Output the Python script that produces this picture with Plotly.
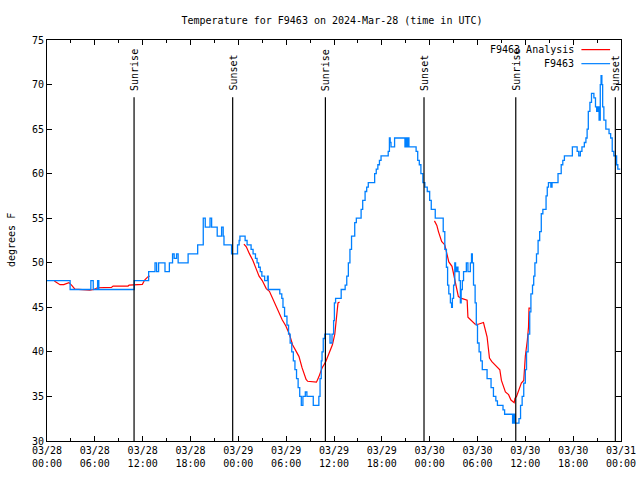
import pandas as pd
import plotly.graph_objects as go

BASE = pd.Timestamp("2024-03-28 00:00")

# Observations (hours since 03/28 00:00 UTC, degrees F) - step series
obs_hours = [0.0, 2.9, 5.5, 5.8, 6.35, 6.5, 10.95, 12.75, 13.55, 13.75, 14.0, 14.8, 15.35, 15.75, 15.95,
             16.25, 16.45, 17.7, 18.9, 19.6, 19.85, 20.45, 20.65, 21.35, 21.9, 22.1, 22.2, 23.15, 23.9,
             24.1, 24.2, 24.85, 25.1, 25.6, 25.85, 26.15, 26.35, 26.55, 26.75, 26.95, 27.3, 27.65, 27.75,
             29.2, 29.45, 29.6, 29.8, 30.1, 30.3, 30.5, 30.7, 30.9, 31.1, 31.3, 31.5, 31.7, 31.9, 32.1,
             32.4, 32.6, 33.4, 34.1, 34.25, 34.4, 34.5, 34.65, 34.85, 35.5, 35.75, 35.95, 36.05, 36.2,
             36.9, 37.4, 37.6, 37.8, 38.0, 38.2, 38.6, 38.8, 39.4, 39.6, 39.9, 40.1, 40.3, 41.1, 41.3,
             41.5, 41.7, 41.9, 42.8, 42.95, 43.05, 43.15, 43.6, 44.9, 45.0, 45.15, 45.25, 45.4, 46.3,
             46.5, 46.7, 46.9, 47.15, 47.4, 47.7, 48.0, 48.2, 48.7, 49.7, 49.9, 50.1, 50.25, 50.4, 50.6,
             50.75, 50.85, 51.0, 51.15, 51.25, 51.4, 51.55, 51.7, 51.85, 51.95, 52.1, 52.25, 52.6, 52.8,
             53.1, 53.25, 53.35, 53.5, 53.7, 53.85, 54.0, 54.2, 54.4, 54.6, 55.2, 55.7, 56.0, 56.3, 56.5,
             57.2, 57.4, 58.4, 58.55, 58.7, 59.2, 59.4, 59.6, 59.8, 60.0, 60.15, 60.35, 60.55, 60.7,
             60.9, 61.05, 61.2, 61.4, 61.6, 61.8, 62.0, 62.2, 62.6, 62.75, 62.9, 63.2, 63.35, 64.1,
             64.5, 64.7, 64.9, 65.9, 66.5, 66.7, 66.9, 67.1, 67.4, 67.6, 67.75, 67.9, 68.1, 68.3, 68.5,
             68.6, 68.8, 68.95, 69.1, 69.25, 69.4, 69.5, 69.6, 69.7, 69.85, 70.1, 70.3, 70.5, 70.7,
             70.9, 71.1, 71.45, 71.6, 71.9]
obs_temp = [48, 47, 48, 47, 48, 47, 48, 49, 50, 49, 50, 49, 50, 51, 50.5,
            51, 50, 51, 52, 55, 54, 55, 54, 53, 54, 53, 52, 51, 52,
            52.5, 53, 52.5, 52, 51.5, 51, 50.5, 50, 49.5, 49, 48.5, 48, 48.5, 47,
            46.5, 46, 45, 44, 43, 42, 41, 40, 39, 38, 37, 36, 35, 34, 35,
            35.5, 35, 34, 35, 37, 39, 40, 41.5, 42, 41, 42, 43.5, 45.5, 46,
            47, 47.5, 48.5, 50, 51.5, 53, 54.5, 55, 56, 57, 58, 58.5, 59, 60, 60.5,
            61, 61.5, 62, 62.5, 64, 63.5, 63, 64, 63, 64, 63, 64, 63, 62.5,
            61.5, 61, 60, 59, 58.5, 58, 57, 56, 55, 53.5, 51.5, 49.5, 47.5, 46.5, 45.5,
            45, 46, 47.5, 50, 49, 49.5, 49, 48, 45.5, 47, 48, 49, 50, 49,
            50, 51, 50, 47.5, 45.5, 43, 41, 40, 39, 38, 37, 36, 35, 34.5, 34,
            33.5, 33, 32, 33, 32, 32.5, 34, 35, 36.5, 38, 40, 42, 44.5, 46.5,
            47.5, 48.5, 50, 51, 52.5, 53.5, 55.5, 56, 57.5, 58.5, 59, 58.5, 59, 60,
            61, 61.5, 62, 63, 62.5, 62, 62.5, 63, 63.5, 64, 65, 67, 68, 69, 69,
            68.5, 67.5, 67, 67.5, 66, 70, 71, 70, 67.5, 66, 65, 65, 64.5, 64,
            62.5, 62, 61, 60.5, 60.5]

# Analysis (None = gap)
ana_hours = [0.92, 1.63, 2.1, 2.46, 2.75, 3.08, 3.5, 5.375, 5.9, 6.3, 8.08, 8.29, 10.17, 10.3, 11.96,
             12.25, 12.67, 12.875, 18.0,
             24.7, 25.0, 25.4, 25.8, 26.2, 26.6, 27.0, 27.5, 27.9, 28.3, 28.7, 29.1, 29.5, 29.96, 30.4,
             30.8, 31.2, 31.6, 32.0, 32.5, 32.7, 33.3, 33.8, 34.1, 34.5, 34.96, 35.4, 35.8, 36.1, 36.3,
             36.5, 36.7, 42.0,
             48.6, 48.9, 49.1, 49.5, 49.9, 50.2, 50.4, 50.8, 51.1, 51.4, 51.6, 52.0, 52.7, 52.8, 53.3,
             53.7, 54.1, 54.75, 55.2, 55.5, 55.8, 56.4, 56.8, 57.0, 57.3, 57.5, 57.9, 58.2, 58.6, 58.7,
             58.9, 59.1, 59.5, 59.8, 60.0, 60.25, 60.4, 60.46, 60.7]
ana_temp = [47.95, 47.54, 47.55, 47.69, 47.77, 47.5, 47.05, 46.94, 47.0, 47.2, 47.24, 47.39, 47.39, 47.5, 47.58,
            48.06, 48.44, 48.5, None,
            52.1, 51.8, 51.0, 50.3, 49.4, 48.5, 48.0, 47.1, 46.8, 46.0, 45.1, 44.3, 43.6, 42.9, 42.0,
            40.8, 40.2, 39.5, 38.2, 36.9, 36.7, 36.6, 36.6, 37.2, 38.2, 38.9, 40.0, 40.8, 42.0, 43.6,
            45.5, 45.6, None,
            54.7, 54.2, 53.5, 52.4, 52.0, 50.9, 50.1, 49.6, 48.4, 47.1, 46.2, 46.0, 45.8, 43.9, 43.4,
            43.1, 43.1, 43.3, 41.7, 39.3, 38.9, 38.3, 38.0, 36.8, 35.9, 35.5, 35.2, 34.6, 34.3, 34.8,
            35.0, 35.5, 36.5, 36.8, 39.5, 41.3, 42.8, 44.9, 44.9]

# Sun events (hours since 03/28 00:00 UTC)
sun_hours = [10.92, 23.29, 34.92, 47.29, 58.8, 71.29]
sun_labels = ["Sunrise", "Sunset", "Sunrise", "Sunset", "Sunrise", "Sunset"]

tick_hours = [0, 6, 12, 18, 24, 30, 36, 42, 48, 54, 60, 66, 72]
tick_text = ["03/28<br>00:00", "03/28<br>06:00", "03/28<br>12:00", "03/28<br>18:00",
             "03/29<br>00:00", "03/29<br>06:00", "03/29<br>12:00", "03/29<br>18:00",
             "03/30<br>00:00", "03/30<br>06:00", "03/30<br>12:00", "03/30<br>18:00",
             "03/31<br>00:00"]

def to_time(hours):
    return [BASE + pd.Timedelta(hours=h) for h in hours]

FONT = "DejaVu Sans Mono"
RED = "#ff0000"
BLUE = "#0080ff"

W, H = 640, 480
ML, MT, PW, PH = 47, 40, 574, 401

fig = go.Figure()
fig.add_trace(go.Scatter(x=to_time(ana_hours), y=ana_temp, mode="lines", name="F9463 Analysis",
                         line=dict(color=RED, width=1.2), connectgaps=False))
fig.add_trace(go.Scatter(x=to_time(obs_hours), y=obs_temp, mode="lines", name="F9463",
                         line=dict(color=BLUE, width=1.3, shape="hv")))

for h, lab in zip(sun_hours, sun_labels):
    t = BASE + pd.Timedelta(hours=h)
    fig.add_shape(type="line", xref="x", yref="paper", x0=t, x1=t, y0=0, y1=0.857,
                  line=dict(color="black", width=1.2))
    fig.add_annotation(x=t, y=0.868, xref="x", yref="paper", text=lab, textangle=-90,
                       showarrow=False, xanchor="center", yanchor="bottom", xshift=1,
                       font=dict(family=FONT, size=10, color="black"))

# Manual legend (text right-aligned, sample on the right, gnuplot style)
legend_items = [("F9463 Analysis", RED, 0.976), ("F9463", BLUE, 0.941)]
for name, col, yy in legend_items:
    fig.add_annotation(x=0.921, y=yy, xref="paper", yref="paper", text=name, showarrow=False,
                       xanchor="right", yanchor="middle", font=dict(family=FONT, size=10, color="black"))
    fig.add_shape(type="line", xref="paper", yref="paper", x0=0.931, x1=0.981, y0=yy, y1=yy,
                  line=dict(color=col, width=1.2))

# y-axis title as rotated annotation
fig.add_annotation(x=-(ML - 11) / PW, y=(441 - 240) / PH, xref="paper", yref="paper", text="degrees F",
                   textangle=-90, showarrow=False, xanchor="center", yanchor="middle",
                   font=dict(family=FONT, size=10, color="black"))

fig.update_layout(
    width=W, height=H,
    margin=dict(l=ML, r=W - ML - PW, t=MT, b=H - MT - PH, autoexpand=False),
    paper_bgcolor="white", plot_bgcolor="white",
    showlegend=False,
    font=dict(family=FONT, size=10, color="black"),
    title=dict(text="Temperature for F9463 on 2024-Mar-28 (time in UTC)", x=332 / W, xanchor="center",
               y=1 - 20 / H, yanchor="middle", font=dict(family=FONT, size=10, color="black")),
    xaxis=dict(range=[BASE, BASE + pd.Timedelta(hours=72)], tickvals=to_time(tick_hours), ticktext=tick_text,
               showgrid=False, zeroline=False, showline=True, linecolor="black", linewidth=1,
               mirror="allticks", ticks="inside", ticklen=5, tickcolor="black", automargin=False,
               minor=dict(dtick=3 * 3600 * 1000, ticks="inside", ticklen=3, tickcolor="black", showgrid=False),
               tickfont=dict(family=FONT, size=10)),
    yaxis=dict(range=[30, 75], tickvals=[30, 35, 40, 45, 50, 55, 60, 65, 70, 75],
               showgrid=False, zeroline=False, showline=True, linecolor="black", linewidth=1,
               mirror="allticks", ticks="inside", ticklen=5, tickcolor="black", automargin=False,
               tickfont=dict(family=FONT, size=10)),
)

fig.write_html("out.html", config={"displayModeBar": False},
               post_script="document.body.style.margin='0';document.body.style.overflow='hidden';")
